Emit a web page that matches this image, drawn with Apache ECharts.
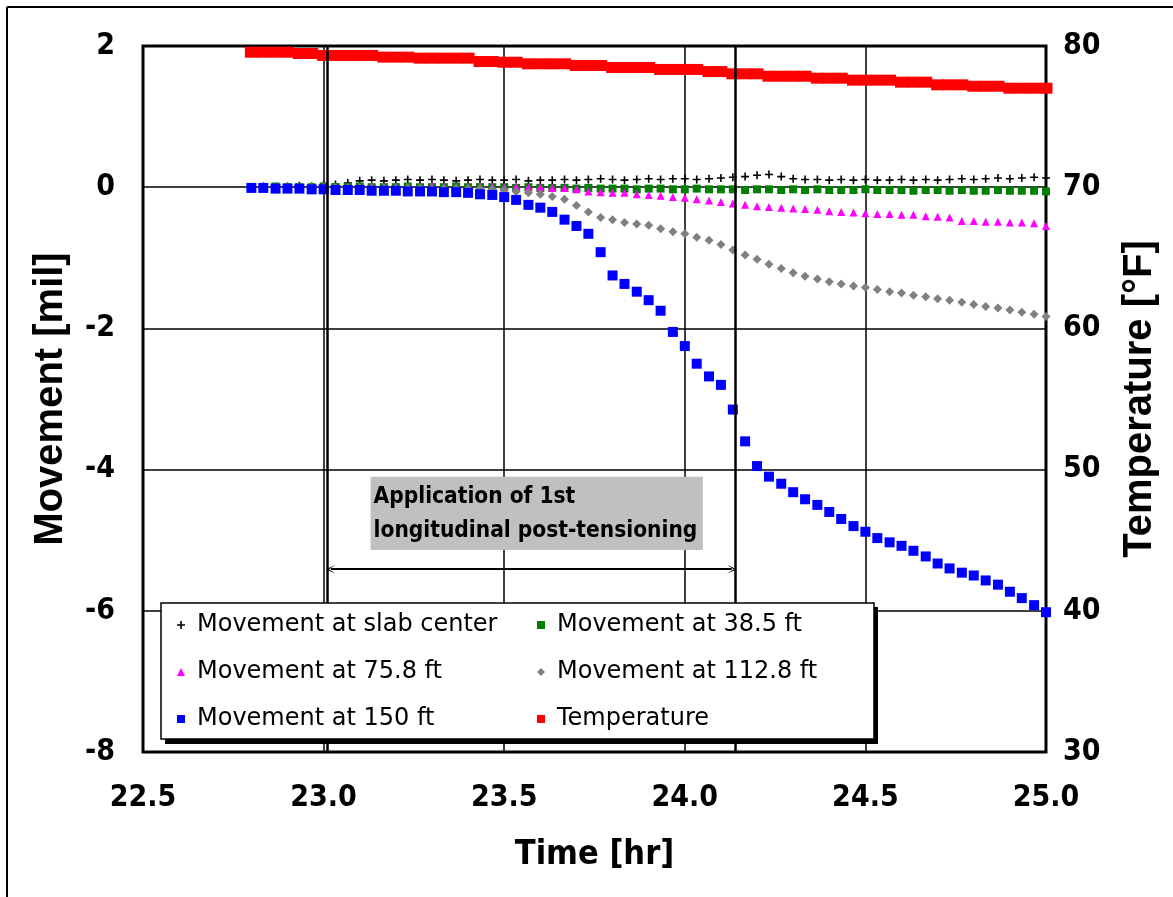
<!DOCTYPE html>
<html>
<head>
<meta charset="utf-8">
<script src="https://cdn.jsdelivr.net/npm/echarts@6/dist/echarts.min.js"></script>
<style>
  html, body { margin: 0; padding: 0; background: #fff; }
  #chart { width: 1173px; height: 897px; }
</style>
</head>
<body>
<div id="chart"></div>
<script>
// Sample times (hr), one reading every 2 minutes
const timeHr = [
  22.800, 22.833, 22.867, 22.900, 22.933, 22.967, 23.000, 23.033, 23.067, 23.100,
  23.133, 23.167, 23.200, 23.233, 23.267, 23.300, 23.333, 23.367, 23.400, 23.433,
  23.467, 23.500, 23.533, 23.567, 23.600, 23.633, 23.667, 23.700, 23.733, 23.767,
  23.800, 23.833, 23.867, 23.900, 23.933, 23.967, 24.000, 24.033, 24.067, 24.100,
  24.133, 24.167, 24.200, 24.233, 24.267, 24.300, 24.333, 24.367, 24.400, 24.433,
  24.467, 24.500, 24.533, 24.567, 24.600, 24.633, 24.667, 24.700, 24.733, 24.767,
  24.800, 24.833, 24.867, 24.900, 24.933, 24.967, 25.000
];

// Movement readings (mil)
const moveSlabCenter = [
  0.00, 0.01, 0.00, 0.01, 0.02, 0.01, 0.03, 0.04, 0.06, 0.09,
  0.10, 0.09, 0.10, 0.11, 0.10, 0.11, 0.10, 0.09, 0.10, 0.11,
  0.10, 0.10, 0.11, 0.09, 0.10, 0.10, 0.11, 0.10, 0.11, 0.12,
  0.11, 0.10, 0.11, 0.12, 0.11, 0.12, 0.12, 0.11, 0.12, 0.13,
  0.14, 0.15, 0.17, 0.18, 0.15, 0.12, 0.11, 0.11, 0.10, 0.11,
  0.10, 0.11, 0.10, 0.10, 0.11, 0.10, 0.11, 0.10, 0.11, 0.12,
  0.11, 0.12, 0.13, 0.12, 0.13, 0.14, 0.13
];
const move38_5 = [
  0.00, 0.00, 0.01, 0.00, 0.00, 0.00, 0.01, 0.00, 0.00, 0.01,
  0.00, 0.00, 0.00, 0.01, 0.00, 0.00, 0.00, 0.01, 0.00, 0.00,
  0.00, 0.00, -0.01, 0.00, -0.01, -0.01, -0.01, -0.02, -0.01, -0.02,
  -0.02, -0.02, -0.03, -0.02, -0.02, -0.03, -0.03, -0.02, -0.03, -0.03,
  -0.03, -0.04, -0.03, -0.03, -0.04, -0.03, -0.04, -0.03, -0.04, -0.04,
  -0.04, -0.03, -0.04, -0.04, -0.04, -0.05, -0.04, -0.04, -0.05, -0.04,
  -0.05, -0.05, -0.04, -0.05, -0.05, -0.05, -0.06
];
const move75_8 = [
  0.01, 0.01, 0.02, 0.01, 0.01, 0.01, 0.02, 0.01, 0.01, 0.01,
  0.02, 0.01, 0.01, 0.01, 0.01, 0.02, 0.01, 0.01, 0.01, 0.01,
  0.01, 0.00, 0.01, 0.00, 0.00, -0.01, -0.01, -0.03, -0.06, -0.07,
  -0.08, -0.08, -0.10, -0.11, -0.12, -0.14, -0.15, -0.17, -0.19, -0.21,
  -0.23, -0.25, -0.27, -0.28, -0.29, -0.30, -0.31, -0.32, -0.34, -0.35,
  -0.36, -0.37, -0.38, -0.38, -0.39, -0.39, -0.41, -0.42, -0.43, -0.48,
  -0.48, -0.49, -0.49, -0.50, -0.50, -0.51, -0.55
];
const move112_8 = [
  -0.01, -0.01, -0.01, -0.01, -0.01, -0.01, -0.01, -0.01, -0.01, -0.01,
  -0.01, -0.01, -0.01, -0.01, -0.01, -0.02, -0.02, -0.02, -0.02, -0.02,
  -0.03, -0.04, -0.06, -0.08, -0.10, -0.13, -0.17, -0.26, -0.35, -0.43,
  -0.46, -0.50, -0.52, -0.54, -0.59, -0.63, -0.66, -0.71, -0.75, -0.81,
  -0.89, -0.96, -1.02, -1.09, -1.15, -1.21, -1.26, -1.30, -1.34, -1.37,
  -1.40, -1.42, -1.45, -1.48, -1.50, -1.53, -1.55, -1.58, -1.60, -1.63,
  -1.66, -1.69, -1.71, -1.74, -1.77, -1.80, -1.83
];
const move150 = [
  -0.01, -0.01, -0.02, -0.02, -0.02, -0.03, -0.03, -0.04, -0.04, -0.04,
  -0.05, -0.05, -0.05, -0.06, -0.06, -0.06, -0.07, -0.07, -0.08, -0.10,
  -0.11, -0.14, -0.18, -0.25, -0.29, -0.35, -0.46, -0.55, -0.66, -0.92,
  -1.25, -1.37, -1.48, -1.60, -1.75, -2.05, -2.25, -2.50, -2.68, -2.80,
  -3.15, -3.60, -3.95, -4.10, -4.20, -4.32, -4.42, -4.50, -4.60, -4.70,
  -4.80, -4.88, -4.97, -5.03, -5.08, -5.15, -5.23, -5.33, -5.40, -5.46,
  -5.50, -5.57, -5.63, -5.73, -5.82, -5.92, -6.02
];
// Temperature readings (°F)
const temperatureF = [
  79.56, 79.56, 79.56, 79.56, 79.47, 79.47, 79.33, 79.33, 79.33, 79.33,
  79.33, 79.21, 79.21, 79.21, 79.14, 79.14, 79.14, 79.14, 79.14, 78.90,
  78.90, 78.85, 78.85, 78.74, 78.74, 78.74, 78.74, 78.62, 78.62, 78.62,
  78.48, 78.48, 78.48, 78.48, 78.34, 78.34, 78.34, 78.34, 78.19, 78.19,
  78.03, 78.03, 78.03, 77.86, 77.86, 77.86, 77.86, 77.72, 77.72, 77.72,
  77.58, 77.58, 77.58, 77.58, 77.44, 77.44, 77.44, 77.25, 77.25, 77.25,
  77.15, 77.15, 77.15, 77.01, 77.01, 77.01, 77.01
];

// Post-tensioning window (hr) and its annotation
const ptStart = 23.01;
const ptEnd = 24.14;
const ptArrow = { from: 23.02, to: 24.13, level: -5.41 };
const ptNote = { x0: 23.13, x1: 24.05, yTop: -4.1, yBottom: -5.14 };
const ptNoteText = 'Application of 1st\nlongitudinal post-tensioning';

const NARROW = "'Liberation Sans Narrow','DejaVu Sans Condensed','Liberation Sans',Arial,sans-serif";
const SANS = "'Liberation Sans',Arial,sans-serif";
const PLUS = 'path://M4,0H6V4H10V6H6V10H4V6H0V4H4Z';
const CHEVRON = 'path://M0,10L5,0L10,10L5,3Z';

const pairs = vals => timeHr.map((t, i) => [t, vals[i]]);

const chart = echarts.init(document.getElementById('chart'), null, { renderer: 'canvas' });

const axisLabelStyle = { fontFamily: NARROW, fontWeight: 'bold', fontSize: 30, color: '#000' };

// Legend box (pixels) and its drop shadow
const legendBox = { left: 161, top: 603, width: 713, height: 137 };

chart.setOption({
  animation: false,
  backgroundColor: '#fff',
  grid: {
    left: 143, right: 127, top: 46, bottom: 145,
    show: true, borderColor: '#000', borderWidth: 3
  },
  xAxis: {
    type: 'value', min: 22.5, max: 25, interval: 0.5,
    axisLine: { show: false }, axisTick: { show: false },
    splitLine: { show: true, lineStyle: { color: '#000', width: 1.5 } },
    axisLabel: Object.assign({ margin: 31, formatter: v => v.toFixed(1) }, axisLabelStyle),
    name: 'Time [hr]', nameLocation: 'middle', nameGap: 86,
    nameTextStyle: { fontFamily: NARROW, fontWeight: 'bold', fontSize: 34, color: '#000' }
  },
  yAxis: [
    {
      type: 'value', min: -8, max: 2, interval: 2, position: 'left',
      axisLine: { show: false }, axisTick: { show: false },
      splitLine: { show: true, lineStyle: { color: '#000', width: 1.5 } },
      axisLabel: Object.assign({ margin: 28 }, axisLabelStyle),
      name: 'Movement [mil]', nameLocation: 'middle', nameGap: 72, nameRotate: 90,
      nameTextStyle: { fontFamily: SANS, fontWeight: 'bold', fontSize: 40, color: '#000' }
    },
    {
      type: 'value', min: 30, max: 80, interval: 10, position: 'right',
      axisLine: { show: false }, axisTick: { show: false },
      splitLine: { show: false },
      axisLabel: Object.assign({ margin: 17 }, axisLabelStyle),
      name: 'Temperature [°F]', nameLocation: 'middle', nameGap: 74, nameRotate: 90,
      nameTextStyle: { fontFamily: SANS, fontWeight: 'bold', fontSize: 40, color: '#000' }
    }
  ],
  legend: {
    left: legendBox.left, top: legendBox.top, orient: 'horizontal', width: 700,
    padding: [10, 0, 8, 16],
    itemWidth: 8, itemHeight: 8, itemGap: 23,
    backgroundColor: '#fff', borderColor: '#000', borderWidth: 1.5,
    selectedMode: false,
    textStyle: {
      fontFamily: "'DejaVu Sans',sans-serif", fontSize: 24, color: '#000',
      width: 317, lineHeight: 23, padding: [0, 0, 0, 7]
    },
    data: [
      'Movement at slab center', 'Movement at 38.5 ft',
      'Movement at 75.8 ft', 'Movement at 112.8 ft',
      'Movement at 150 ft', 'Temperature'
    ]
  },
  graphic: [
    { type: 'line', z: 10, shape: { x1: 7, y1: 7, x2: 7, y2: 897 }, style: { stroke: '#000', lineWidth: 2 } },
    { type: 'line', z: 10, shape: { x1: 7, y1: 7, x2: 1173, y2: 7 }, style: { stroke: '#000', lineWidth: 2 } },
    {
      type: 'rect', z: 3,
      shape: { x: legendBox.left + 4, y: legendBox.top + 4, width: legendBox.width, height: legendBox.height },
      style: { fill: '#000' }
    }
  ],
  series: [
    {
      type: 'scatter', name: 'Movement at slab center', data: pairs(moveSlabCenter),
      symbol: PLUS, symbolSize: 8, itemStyle: { color: '#000', opacity: 1 },
      markArea: {
        silent: true,
        itemStyle: { color: '#c0c0c0', opacity: 1 },
        label: {
          show: true, position: 'insideTopLeft', distance: 3,
          formatter: ptNoteText,
          fontFamily: NARROW, fontWeight: 'bold', fontSize: 22.5, lineHeight: 34, color: '#000'
        },
        data: [[{ coord: [ptNote.x0, ptNote.yTop] }, { coord: [ptNote.x1, ptNote.yBottom] }]]
      },
      markLine: {
        silent: true, animation: false, symbol: 'none', z: 3,
        label: { show: false },
        lineStyle: { color: '#000', width: 2.5, type: 'solid', opacity: 1 },
        data: [
          [{ coord: [ptStart, 2] }, { coord: [ptStart, -8] }],
          [{ coord: [ptEnd, 2] }, { coord: [ptEnd, -8] }],
          [
            { coord: [ptArrow.from, ptArrow.level], symbol: CHEVRON, symbolSize: [9, 10], lineStyle: { width: 2 } },
            { coord: [ptArrow.to, ptArrow.level], symbol: CHEVRON, symbolSize: [9, 10] }
          ]
        ]
      }
    },
    {
      type: 'scatter', name: 'Movement at 38.5 ft', data: pairs(move38_5),
      symbol: 'rect', symbolSize: 8, itemStyle: { color: '#008000', opacity: 1 }
    },
    {
      type: 'scatter', name: 'Movement at 75.8 ft', data: pairs(move75_8),
      symbol: 'triangle', symbolSize: 8, itemStyle: { color: '#ff00ff', opacity: 1 }
    },
    {
      type: 'scatter', name: 'Movement at 112.8 ft', data: pairs(move112_8),
      symbol: 'diamond', symbolSize: 9, itemStyle: { color: '#808080', opacity: 1 }
    },
    {
      type: 'scatter', name: 'Movement at 150 ft', data: pairs(move150),
      symbol: 'rect', symbolSize: 10, itemStyle: { color: '#0000ff', opacity: 1 }
    },
    {
      type: 'scatter', name: 'Temperature', yAxisIndex: 1, data: pairs(temperatureF),
      symbol: 'rect', symbolSize: [13, 11], itemStyle: { color: '#ff0000', opacity: 1 }
    }
  ]
});
</script>
</body>
</html>
